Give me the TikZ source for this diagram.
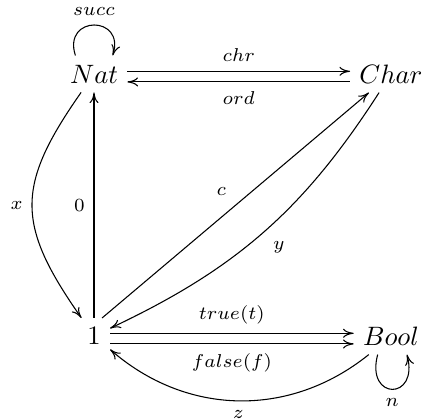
\documentclass[tikz,border=0pt]{standalone}
\usepackage{amsmath, amssymb}
\usetikzlibrary{arrows.meta}

\begin{document}
\begin{tikzpicture}[>={To[length=4pt, width=3.4pt]}, obj/.style={inner sep=3.33pt}, lbl/.style={font=\scriptsize}]
	\useasboundingbox (0, 0) rectangle (5.575, 5.548);
	% Objects:
	\node[obj] (nat) at (1.242, 4.571){$Nat$};
	\node[obj] (char) at (5.165, 4.571){$Char$};
	\node[obj] (one) at (1.242, 1.11){$1$};
	\node[obj] (bool) at (5.165, 1.11){$Bool$};
	% Arrows:
	\draw[->] ([xshift=-7pt]nat.north) .. controls +(108:16pt) and +(72:16pt) .. ([xshift=7pt]nat.north) node[lbl, midway, above]{$succ$};
	\draw[->] ([yshift=1pt]nat.east) -- ([yshift=1pt]char.west) node[lbl, midway, above]{$chr$};
	\draw[<-] ([yshift=-3pt]nat.east) -- ([yshift=-3pt]char.west) node[lbl, midway, below]{$ord$};
	\draw[->] (one) -- (nat) node[lbl, midway, left]{$0$};
	\draw[->] (nat) to[out=-125, in=125, looseness=1.3] node[lbl, left]{$x$} (one);
	\draw[->] ([xshift=-3pt]one.north east) -- (char) node[lbl, midway, above left]{$c$};
	\draw[->] (char) to[bend left=16] node[lbl, below right]{$y$} (one);
	\draw[->] ([yshift=1pt]one.east) -- ([yshift=1pt]bool.west) node[lbl, midway, above]{$true(t)$};
	\draw[->] ([yshift=-3pt]one.east) -- ([yshift=-3pt]bool.west) node[lbl, midway, below]{$false(f)$};
	\draw[->] (bool) to[bend left=40] node[lbl, below]{$z$} (one);
	\draw[->] ([xshift=-5pt]bool.south) .. controls +(-105:18pt) and +(-75:18pt) .. ([xshift=6pt]bool.south) node[lbl, midway, below]{$n$};
\end{tikzpicture}
\end{document}
